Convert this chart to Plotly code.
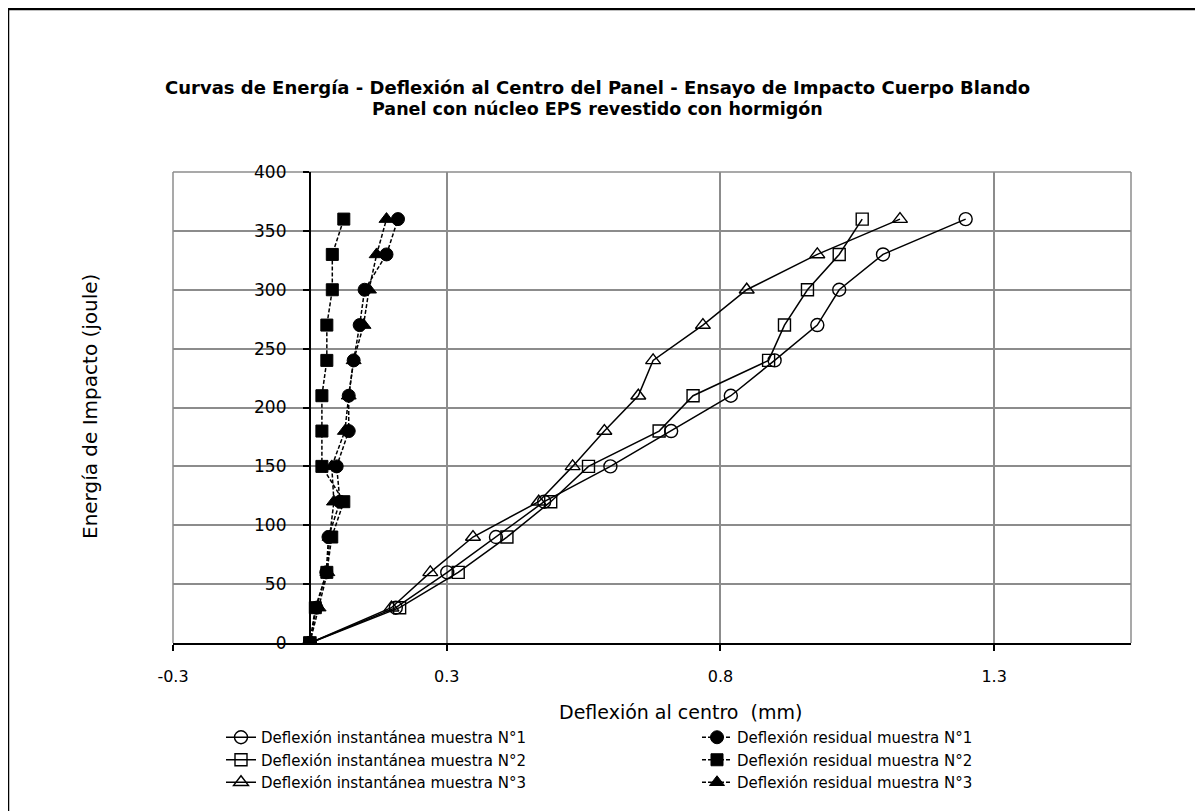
import plotly.graph_objects as go

energia = [0, 30, 60, 90, 120, 150, 180, 210, 240, 270, 300, 330, 360]

inst_1 = [0, 0.157, 0.251, 0.340, 0.428, 0.549, 0.660, 0.769, 0.849, 0.927, 0.967, 1.047, 1.198]
inst_2 = [0, 0.164, 0.271, 0.360, 0.440, 0.509, 0.638, 0.700, 0.838, 0.867, 0.909, 0.967, 1.009]
inst_3 = [0, 0.149, 0.220, 0.298, 0.418, 0.480, 0.538, 0.600, 0.627, 0.718, 0.798, 0.927, 1.078]

res_1 = [0, 0.012, 0.030, 0.034, 0.055, 0.049, 0.071, 0.071, 0.080, 0.091, 0.100, 0.140, 0.161]
res_2 = [0, 0.010, 0.031, 0.040, 0.062, 0.022, 0.022, 0.022, 0.031, 0.031, 0.041, 0.041, 0.062]
res_3 = [0, 0.016, 0.032, 0.036, 0.044, 0.040, 0.064, 0.071, 0.080, 0.098, 0.108, 0.122, 0.140]

names_inst = ["Deflexión instantánea muestra N°1", "Deflexión instantánea muestra N°2",
              "Deflexión instantánea muestra N°3"]
names_res = ["Deflexión residual muestra N°1", "Deflexión residual muestra N°2",
             "Deflexión residual muestra N°3"]

x_tickvals = [-0.25, 0.25, 0.75, 1.25]
x_ticktext = ["-0.3", "0.3", "0.8", "1.3"]

FONT = "DejaVu Sans, Verdana, Arial, sans-serif"
W, H = 1203, 811
OFF = 8  # page body margin
L, R, T, B = 173 - OFF, 1131 - OFF, 172 - OFF, 643 - OFF

symbols = ["circle", "square", "triangle-up"]
sizes = [13, 12, 13]

fig = go.Figure()
for vals, name, sym, sz in zip([inst_1, inst_2, inst_3], names_inst, symbols, sizes):
    fig.add_trace(go.Scatter(
        x=vals, y=energia, name=name, mode="lines+markers",
        line=dict(color="black", width=1.5),
        marker=dict(symbol=sym + "-open", size=sz, color="black", line=dict(width=1.4, color="black")),
        legend="legend",
    ))
for vals, name, sym, sz in zip([res_1, res_2, res_3], names_res, symbols, sizes):
    fig.add_trace(go.Scatter(
        x=vals, y=energia, name=name, mode="lines+markers",
        line=dict(color="black", width=1.5, dash="4px,2px"),
        marker=dict(symbol=sym, size=sz, color="black", line=dict(width=1, color="black")),
        legend="legend2",
    ))

xmin, xmax = -0.25, 1.5
ypos = (0 - xmin) / (xmax - xmin)

def px(xp):
    return (xp - OFF - L) / (R - L)

def py(yp):
    return (B - (yp - OFF)) / (B - T)

fig.update_layout(
    width=W, height=H,
    margin=dict(l=L, r=W - R, t=T, b=H - B),
    paper_bgcolor="white", plot_bgcolor="white",
    font=dict(family=FONT, color="black", size=14),
    showlegend=True,
    xaxis=dict(
        range=[xmin, xmax], tickvals=x_tickvals, ticktext=x_ticktext,
        showgrid=True, gridcolor="#8c8c8c", gridwidth=1.5,
        showline=True, linecolor="black", linewidth=2,
        ticks="outside", ticklen=6, tickcolor="black", tickwidth=1.5,
        ticklabelstandoff=12, tickfont=dict(size=16, family=FONT),
        zeroline=False, fixedrange=True,
    ),
    yaxis=dict(
        range=[0, 400], dtick=50, tick0=0,
        anchor="free", position=ypos,
        showgrid=True, gridcolor="#8c8c8c", gridwidth=1.5,
        showline=True, linecolor="black", linewidth=2,
        ticks="outside", ticklen=6, tickcolor="black", tickwidth=1.5,
        ticklabelstandoff=13, tickfont=dict(size=17, family=FONT),
        zeroline=False, fixedrange=True,
    ),
    legend=dict(
        x=px(221), y=py(721), xanchor="left", yanchor="top",
        font=dict(size=15, family=FONT), bgcolor="rgba(0,0,0,0)",
        tracegroupgap=0, itemwidth=30,
    ),
    legend2=dict(
        x=px(697), y=py(721), xanchor="left", yanchor="top",
        font=dict(size=15, family=FONT), bgcolor="rgba(0,0,0,0)",
        tracegroupgap=0, itemwidth=30,
    ),
    shapes=[
        dict(type="line", xref="paper", yref="paper", x0=0, x1=1, y0=1, y1=1,
             line=dict(color="#8c8c8c", width=1.5), layer="below"),
        dict(type="line", xref="paper", yref="paper", x0=0, x1=0, y0=0, y1=1,
             line=dict(color="#8c8c8c", width=1.5), layer="below"),
        dict(type="line", xref="paper", yref="paper", x0=1, x1=1, y0=0, y1=1,
             line=dict(color="#8c8c8c", width=1.5), layer="below"),
        dict(type="line", xref="paper", yref="paper", x0=px(8), x1=px(1260), y0=py(9), y1=py(9),
             line=dict(color="black", width=2.5)),
        dict(type="line", xref="paper", yref="paper", x0=px(8), x1=px(8), y0=py(9), y1=py(900),
             line=dict(color="black", width=2.5)),
    ],
    annotations=[
        dict(text="<b>Curvas de Energía - Deflexión al Centro del Panel - Ensayo de Impacto Cuerpo Blando</b>",
             xref="paper", yref="paper", x=px(597), y=py(87), showarrow=False,
             font=dict(size=18, family=FONT), xanchor="center", yanchor="middle"),
        dict(text="<b>Panel con núcleo EPS revestido con hormigón</b>",
             xref="paper", yref="paper", x=px(597), y=py(109), showarrow=False,
             font=dict(size=17.5, family=FONT), xanchor="center", yanchor="middle"),
        dict(text="Deflexión al centro  (mm)",
             xref="paper", yref="paper", x=px(680), y=py(712), showarrow=False,
             font=dict(size=19, family=FONT), xanchor="center", yanchor="middle"),
        dict(text="Energía de Impacto (joule)",
             xref="paper", yref="paper", x=px(90), y=py(407), showarrow=False, textangle=-90,
             font=dict(size=20, family=FONT), xanchor="center", yanchor="middle"),
    ],
)

fig.write_html("out.html")
